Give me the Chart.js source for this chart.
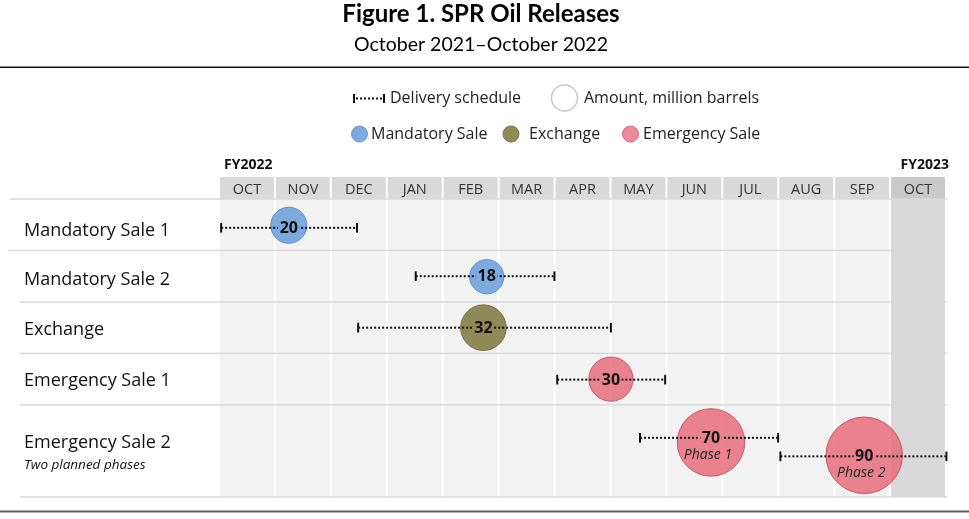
<!DOCTYPE html>
<html>
<head>
<meta charset="utf-8">
<script src="https://cdn.jsdelivr.net/npm/chart.js@4/dist/chart.umd.min.js"></script>
<style>
  html, body { margin: 0; padding: 0; background: #fff; overflow: hidden; }
  #wrap { width: 969px; height: 519px; position: relative; }
  canvas { display: block; }
</style>
</head>
<body>
<div id="wrap"><canvas id="c"></canvas></div>
<script>
// ---------- data ----------
const chartTitle = 'Figure 1. SPR Oil Releases';
const chartSubtitle = 'October 2021\u2013October 2022';
const fiscalYears = ['FY2022', 'FY2023'];
const months = ['OCT','NOV','DEC','JAN','FEB','MAR','APR','MAY','JUN','JUL','AUG','SEP','OCT'];
const rowLabels = ['Mandatory Sale 1','Mandatory Sale 2','Exchange','Emergency Sale 1','Emergency Sale 2'];
const rowLabelY = [0.61, 1.57, 2.54, 3.53, 4.73];
const rowSubLabel = 'Two planned phases';
const rowSubLabelY = 5.17;
const rowBounds = [0, 1, 2, 3, 4, 5.79];

const releaseType   = ['Mandatory Sale','Mandatory Sale','Exchange','Emergency Sale','Emergency Sale','Emergency Sale'];
const scheduleStart = [0.02, 3.50, 2.47, 6.03, 7.51, 10.02];
const scheduleEnd   = [2.45, 5.98, 6.99, 7.96, 9.98, 12.99];
const scheduleY     = [0.56, 1.50, 2.50, 3.51, 4.64, 5.00];
const amountX       = [1.23, 4.77, 4.71, 6.99, 8.78, 11.52];
const amountY       = [0.51, 1.51, 2.50, 3.50, 4.73, 4.98];
const amounts       = [20, 18, 32, 30, 70, 90];
const phaseLabels   = ['', '', '', '', 'Phase 1', 'Phase 2'];

const legendTypes = ['Mandatory Sale', 'Exchange', 'Emergency Sale'];
const legendScheduleText = 'Delivery schedule';
const legendAmountText = 'Amount, million barrels';

// ---------- styles ----------
const typeStyle = {
  'Mandatory Sale': { fill: 'rgba(97,151,215,0.8)',  solid: '#7ea9dc', border: '#5b8fcf', legend: '#7fa9dc', legendBorder: '#6a9ad6' },
  'Exchange':       { fill: 'rgba(117,110,47,0.8)',  solid: '#8e8856', border: '#78733f', legend: '#8f8a58', legendBorder: '#7d7847' },
  'Emergency Sale': { fill: 'rgba(230,100,118,0.8)', solid: '#e8808f', border: '#c9536a', legend: '#ec8a99', legendBorder: '#d9687c' }
};
const FONT = '"Open Sans", "DejaVu Sans", sans-serif';
const TFONT = 'Lato, "Open Sans", sans-serif';
const radiusFor = v => 4.03 * Math.sqrt(v);
const DASH = [2, 2];

// ---------- datasets ----------
const datasets = [];
scheduleStart.forEach((s, i) => {
  datasets.push({
    type: 'line',
    data: [{ x: s, y: scheduleY[i] }, { x: scheduleEnd[i], y: scheduleY[i] }],
    borderColor: '#111',
    borderWidth: 2,
    borderDash: DASH,
    pointStyle: 'line',
    pointRotation: 90,
    pointRadius: 4.8,
    pointBorderWidth: 2,
    pointBorderColor: '#111',
    pointBackgroundColor: '#111',
    fill: false,
    order: 0,
    clip: false
  });
});
legendTypes.forEach(t => {
  const idx = releaseType.map((r, i) => r === t ? i : -1).filter(i => i >= 0);
  datasets.push({
    type: 'bubble',
    label: t,
    data: idx.map(i => ({ x: amountX[i], y: amountY[i], r: radiusFor(amounts[i]) })),
    backgroundColor: typeStyle[t].fill,
    borderColor: typeStyle[t].border,
    borderWidth: 1,
    hoverRadius: 0,
    order: 1,
    clip: false
  });
});

// ---------- plugins ----------
const backgroundPlugin = {
  id: 'backgroundPlugin',
  beforeDraw(chart) {
    const { ctx, chartArea: a, scales: { x, y } } = chart;
    ctx.save();
    ctx.fillStyle = '#fff';
    ctx.fillRect(0, 0, chart.width, chart.height);

    // title + subtitle
    ctx.textAlign = 'center';
    ctx.textBaseline = 'middle';
    ctx.fillStyle = '#000';
    ctx.font = 'bold 24px ' + TFONT;
    ctx.fillText(chartTitle, 481, 14);
    ctx.font = '19.5px ' + TFONT;
    ctx.fillText(chartSubtitle, 481, 45);

    // rules
    ctx.fillStyle = '#111';
    ctx.fillRect(0, 66.5, chart.width, 1.5);
    ctx.fillStyle = '#5a5a5a';
    ctx.fillRect(0, 510.5, chart.width, 2);

    // legend row 1
    const l1 = 98.5;
    ctx.strokeStyle = '#111';
    ctx.lineWidth = 2;
    ctx.beginPath();
    ctx.moveTo(354, l1 - 4.5); ctx.lineTo(354, l1 + 4.5);
    ctx.moveTo(384, l1 - 4.5); ctx.lineTo(384, l1 + 4.5);
    ctx.stroke();
    ctx.setLineDash(DASH);
    ctx.beginPath();
    ctx.moveTo(356, l1); ctx.lineTo(383, l1);
    ctx.stroke();
    ctx.setLineDash([]);
    ctx.textAlign = 'left';
    ctx.fillStyle = '#222';
    ctx.font = '16px ' + FONT;
    ctx.fillText(legendScheduleText, 390, l1);
    ctx.beginPath();
    ctx.arc(564.5, l1 - 0.5, 13, 0, Math.PI * 2);
    ctx.fillStyle = '#fff';
    ctx.fill();
    ctx.lineWidth = 1.5;
    ctx.strokeStyle = '#c8c8c8';
    ctx.stroke();
    ctx.fillStyle = '#222';
    ctx.fillText(legendAmountText, 584, l1);

    // legend row 2
    const l2 = 134;
    const lx = [359.5, 511, 630.5];
    const tx = [371, 529, 643];
    legendTypes.forEach((t, i) => {
      ctx.beginPath();
      ctx.arc(lx[i], l2, 8, 0, Math.PI * 2);
      ctx.fillStyle = typeStyle[t].legend;
      ctx.fill();
      ctx.lineWidth = 1;
      ctx.strokeStyle = typeStyle[t].legendBorder;
      ctx.stroke();
      ctx.fillStyle = '#222';
      ctx.fillText(t, tx[i], l2);
    });

    // fiscal years
    ctx.font = 'bold 14px ' + FONT;
    ctx.fillStyle = '#111';
    ctx.textAlign = 'left';
    ctx.fillText(fiscalYears[0], x.getPixelForValue(0) + 4, 165.5);
    ctx.textAlign = 'right';
    ctx.fillText(fiscalYears[1], x.getPixelForValue(months.length) + 2, 165.5);

    // month cells
    const headTop = a.top - 22;
    ctx.textAlign = 'center';
    ctx.font = '14.5px ' + FONT;
    months.forEach((m, i) => {
      const x0 = x.getPixelForValue(i);
      const x1 = x.getPixelForValue(i + 1);
      const last = i === months.length - 1;
      ctx.fillStyle = last ? '#c9c9c9' : '#d9d9d9';
      ctx.fillRect(x0, headTop, x1 - x0 - 2, 22);
      ctx.fillStyle = last ? '#d9d9d9' : '#f2f2f2';
      ctx.fillRect(x0, a.top, x1 - x0 - 2, a.bottom - a.top);
      ctx.fillStyle = '#333';
      ctx.fillText(m, (x0 + x1 - 2) / 2, headTop + 12.5);
    });

    // row separators
    ctx.fillStyle = '#d9d9d9';
    rowBounds.forEach((b, i) => {
      const py = y.getPixelForValue(b);
      let xs = 20, xe = a.right;
      if (i === 0) xs = 10;
      if (i === 1) { xs = 8; xe = 933; }
      ctx.fillRect(xs, py - 0.75, xe - xs, 1.5);
    });

    // row labels
    ctx.textAlign = 'left';
    ctx.fillStyle = '#111';
    ctx.font = '18px ' + FONT;
    rowLabels.forEach((r, i) => ctx.fillText(r, 24, y.getPixelForValue(rowLabelY[i])));
    ctx.font = 'italic 13.5px ' + FONT;
    ctx.fillText(rowSubLabel, 24, y.getPixelForValue(rowSubLabelY));
    ctx.restore();
  }
};

const valueLabelPlugin = {
  id: 'valueLabelPlugin',
  afterDatasetsDraw(chart) {
    const { ctx, scales: { x, y } } = chart;
    ctx.save();
    ctx.textAlign = 'center';
    ctx.textBaseline = 'middle';
    amounts.forEach((v, i) => {
      const px = x.getPixelForValue(amountX[i]);
      const py = y.getPixelForValue(scheduleY[i]);
      ctx.font = 'bold 16px ' + FONT;
      const w = ctx.measureText(String(v)).width;
      ctx.fillStyle = typeStyle[releaseType[i]].solid;
      ctx.fillRect(px - w / 2 - 1.5, py - 2.5, w + 3, 5);
      ctx.fillStyle = '#111';
      ctx.fillText(String(v), px, py + 0.5);
      if (phaseLabels[i]) {
        ctx.font = 'italic 14px ' + FONT;
        ctx.fillStyle = '#222';
        ctx.fillText(phaseLabels[i], px - 3, py + 17);
      }
    });
    ctx.restore();
  }
};

new Chart(document.getElementById('c'), {
  type: 'bubble',
  data: { datasets },
  options: {
    responsive: true,
    maintainAspectRatio: false,
    animation: false,
    events: [],
    layout: { autoPadding: false, padding: { left: 220, right: 22, top: 199, bottom: 22 } },
    scales: {
      x: { type: 'linear', min: 0, max: months.length, display: false },
      y: { type: 'linear', min: 0, max: rowBounds[rowBounds.length - 1], reverse: true, display: false }
    },
    plugins: { legend: { display: false }, tooltip: { enabled: false }, title: { display: false } }
  },
  plugins: [backgroundPlugin, valueLabelPlugin]
});
</script>
</body>
</html>
